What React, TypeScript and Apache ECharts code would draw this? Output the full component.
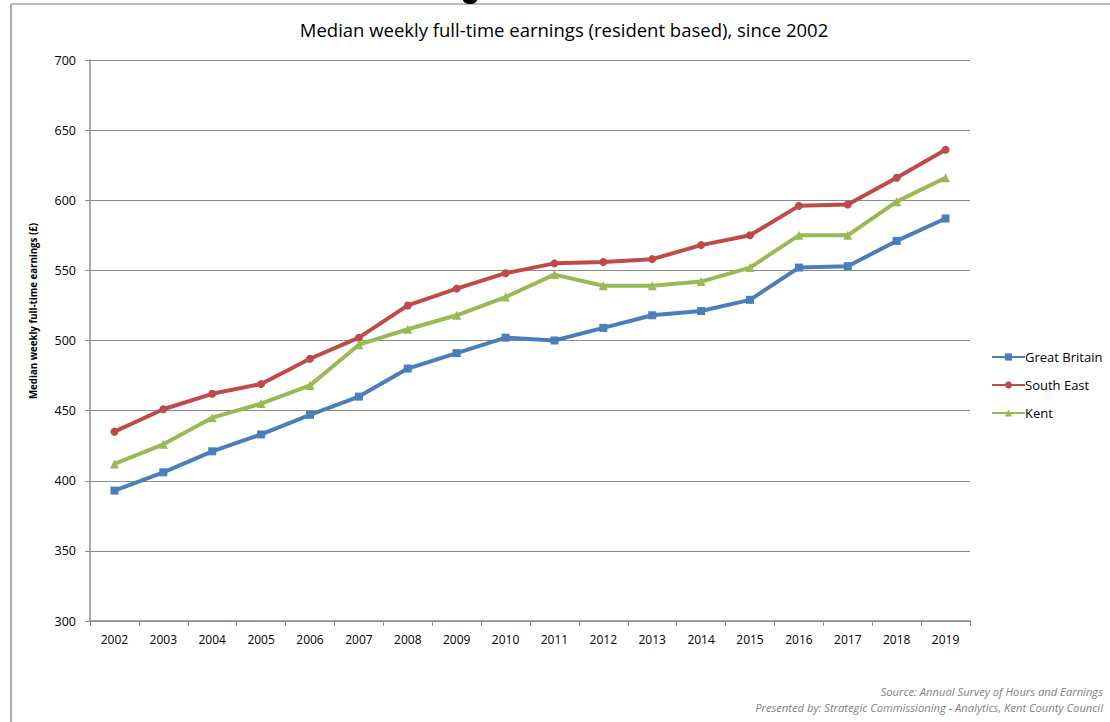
import React, { useEffect, useRef } from "react";
import * as echarts from "echarts";

const years = ["2002","2003","2004","2005","2006","2007","2008","2009","2010","2011","2012","2013","2014","2015","2016","2017","2018","2019"];
const greatBritain = [393, 406, 421, 433, 447, 460, 480, 491, 502, 500, 509, 518, 521, 529, 552, 553, 571, 587];
const southEast = [435, 451, 462, 469, 487, 502, 525, 537, 548, 555, 556, 558, 568, 575, 596, 597, 616, 636];
const kent = [412, 426, 445, 455, 468, 497, 508, 518, 531, 547, 539, 539, 542, 552, 575, 575, 599, 616];

const FONT = "'Open Sans', 'Noto Sans', sans-serif";

export default function App() {
  const ref = useRef<HTMLDivElement>(null);
  useEffect(() => {
    document.body.style.margin = "0";
    const chart = echarts.init(ref.current!, null, { renderer: "svg" });
    const mk = (name: string, data: number[], color: string, symbol: string, size: number) => ({
      name,
      type: "line",
      data,
      symbol,
      symbolSize: size,
      lineStyle: { color, width: 4 },
      itemStyle: { color },
    });
    chart.setOption({
      animation: false,
      backgroundColor: "#ffffff",
      textStyle: { fontFamily: FONT },
      grid: { left: 90, right: 140, top: 60, bottom: 101, containLabel: false },
      legend: {
        orient: "vertical",
        left: 991,
        top: 348,
        padding: 0,
        itemWidth: 33,
        itemHeight: 9,
        itemGap: 10,
        textStyle: { color: "#000", fontSize: 13, fontFamily: FONT, padding: [0, 0, 0, -5], lineHeight: 18 },
        data: ["Great Britain", "South East", "Kent"],
      },
      xAxis: {
        type: "category",
        data: years,
        boundaryGap: true,
        axisLine: { lineStyle: { color: "#8c8c8c", width: 1.5 } },
        axisTick: { show: true, length: 5, lineStyle: { color: "#8c8c8c" } },
        axisLabel: { color: "#000", fontSize: 12, margin: 12, fontFamily: FONT },
        splitLine: { show: false },
      },
      yAxis: {
        type: "value",
        min: 300,
        max: 700,
        interval: 50,
        axisLine: { show: true, lineStyle: { color: "#8c8c8c", width: 1.5 } },
        axisTick: { show: true, length: 5, lineStyle: { color: "#8c8c8c" } },
        axisLabel: { color: "#000", fontSize: 12.5, margin: 14, fontFamily: FONT },
        splitLine: { lineStyle: { color: "#8c8c8c", width: 1 } },
      },
      series: [
        mk("Great Britain", greatBritain, "#4a7ebb", "rect", 8),
        mk("South East", southEast, "#be4b48", "circle", 8),
        mk("Kent", kent, "#98b954", "triangle", 9),
      ],
      graphic: [
        { type: "line", shape: { x1: 11, y1: 4, x2: 1110, y2: 4 }, style: { stroke: "#a6a6a6", lineWidth: 1.5 } },
        { type: "line", shape: { x1: 11, y1: 4, x2: 11, y2: 722 }, style: { stroke: "#8c8c8c", lineWidth: 1.5 } },
        { type: "ellipse", shape: { cx: 470, cy: 0, rx: 7, ry: 4 }, style: { fill: "#000" } },
        {
          type: "text",
          x: 564,
          y: 29,
          style: { text: "Median weekly full-time earnings (resident based), since 2002", fontSize: 18.5, fontFamily: FONT, fill: "#000", align: "center", verticalAlign: "middle" },
        },
        {
          type: "text",
          x: 33,
          y: 311,
          rotation: Math.PI / 2,
          style: { text: "Median weekly full-time earnings (£)", fontSize: 9.7, fontWeight: "bold", fontFamily: FONT, fill: "#000", align: "center", verticalAlign: "middle" },
        },
        {
          type: "text",
          x: 1103,
          y: 691,
          style: { text: "Source: Annual Survey of Hours and Earnings", fontSize: 11.2, fontStyle: "italic", fontFamily: FONT, fill: "#7f7f7f", align: "right", verticalAlign: "middle" },
        },
        {
          type: "text",
          x: 1103,
          y: 707,
          style: { text: "Presented by: Strategic Commissioning - Analytics, Kent County Council", fontSize: 11.2, fontStyle: "italic", fontFamily: FONT, fill: "#7f7f7f", align: "right", verticalAlign: "middle" },
        },
      ],
    });
    return () => chart.dispose();
  }, []);
  return <div ref={ref} style={{ position: "absolute", left: 0, top: 0, width: 1110, height: 722 }} />;
}
